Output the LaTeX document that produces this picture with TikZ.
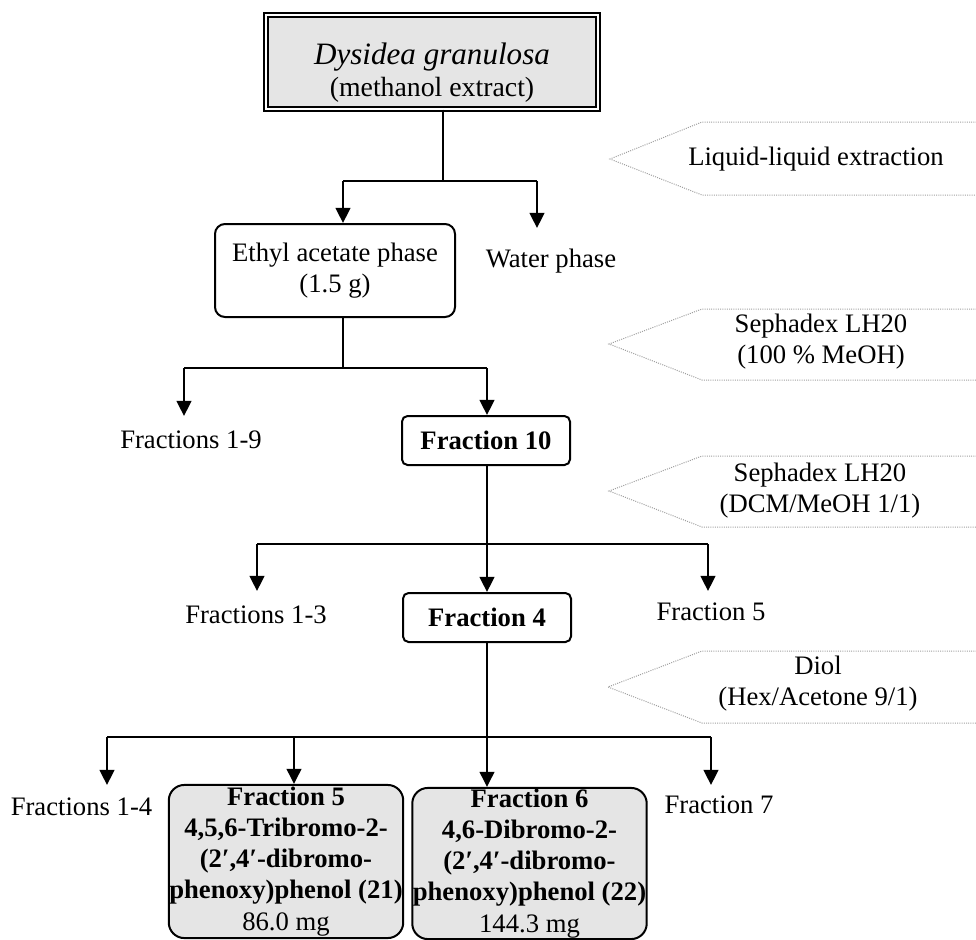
\documentclass[tikz,border=0pt]{standalone}
\usepackage{fontspec}
\setmainfont{Liberation Serif}
\usetikzlibrary{arrows.meta}
\begin{document}
\begin{tikzpicture}[x=0.45pt,y=-0.45pt,
  font=\fontsize{12}{14}\selectfont,
  conn/.style={line width=0.9pt},
  arr/.style={conn,-{Triangle[length=6.8pt,width=6.6pt]}},
  lbl/.style={inner sep=0pt},
  srcbox/.style={draw, line width=0.6pt, double, double distance=1.2pt,
    fill=gray!20, inner sep=0pt, minimum width=149.4pt, minimum height=42.3pt},
  phasebox/.style={draw, line width=0.9pt, rounded corners=4.5pt, align=center,
    inner sep=0pt, minimum width=108pt, minimum height=41.85pt},
  fracbox/.style={draw, line width=0.9pt, rounded corners=2.5pt, font=\fontsize{12}{14}\selectfont\bfseries,
    inner sep=0pt, minimum width=75.6pt, minimum height=22.05pt},
  prodbox/.style={draw, line width=0.9pt, rounded corners=7pt, fill=gray!20, align=center,
    font=\fontsize{12}{14}\selectfont\bfseries, inner sep=0pt, minimum width=105.5pt},
  guide/.style={draw=gray!75, line width=0.45pt, dash pattern=on 0.45pt off 0.55pt},
  steplbl/.style={inner sep=0pt, align=center}
]
\useasboundingbox (0,0) rectangle (976,940);

% ---- starting material ----
\node[srcbox] (src) at (432,62) {};
\node[lbl, anchor=base, font=\fontsize{14}{16}\selectfont\itshape] (srcname) at (432,64) {Dysidea granulosa};
\node[lbl, anchor=base, font=\fontsize{12.5}{15}\selectfont] (srcnote) at (432,96) {(methanol extract)};

% ---- separation steps (dotted tags on the right) ----
\draw[guide] (990,122) -- (702,122) -- (610,159) -- (702,195) -- (990,195);
\node[lbl, anchor=base] (lle) at (816,165) {Liquid-liquid extraction};

\draw[guide] (990,309) -- (702,309) -- (609,344) -- (702,380) -- (990,380);
\node[steplbl] (sep1) at (821,342) {Sephadex LH20\\(100 \% MeOH)};

\draw[guide] (990,456) -- (702,456) -- (609,491) -- (702,527) -- (990,527);
\node[steplbl] (sep2) at (820,491) {Sephadex LH20\\(DCM/MeOH 1/1)};

\draw[guide] (990,651) -- (702,651) -- (608,687) -- (702,723) -- (990,723);
\node[steplbl] (diol) at (818,684) {Diol\\(Hex/Acetone 9/1)};

% ---- fractions ----
\node[phasebox] (eth) at (335,270.5) {Ethyl acetate phase\\(1.5 g)};
\node[lbl, anchor=base] (water) at (551,267) {Water phase};

\node[lbl, anchor=base] (f19) at (191,448) {Fractions 1-9};
\node[fracbox] (f10) at (486,440.5) {Fraction 10};

\node[lbl, anchor=base] (f13) at (256,623) {Fractions 1-3};
\node[fracbox] (f4) at (487,617.5) {Fraction 4};
\node[lbl, anchor=base] (f5a) at (711,620) {Fraction 5};

\node[lbl, anchor=base] (f14) at (81.5,815) {Fractions 1-4};
\node[prodbox, minimum height=68.9pt] (f5) at (286,861.5)
  {Fraction 5\\4,5,6-Tribromo-2-\\(2′,4′-dibromo-\\phenoxy)phenol (21)\\{\mdseries 86.0 mg}};
\node[prodbox, minimum height=68pt] (f6) at (529.5,863.5)
  {Fraction 6\\4,6-Dibromo-2-\\(2′,4′-dibromo-\\phenoxy)phenol (22)\\{\mdseries 144.3 mg}};
\node[lbl, anchor=base] (f7) at (719,813) {Fraction 7};

% ---- branch points and free arrow ends ----
\coordinate (b1) at (443,181);
\coordinate (b1l) at (343,181);
\coordinate (b1r) at (537,181);
\coordinate (t1r) at (537,228);

\coordinate (b2) at (343,368);
\coordinate (b2l) at (184,368);
\coordinate (b2r) at (487,368);
\coordinate (t2l) at (184,416);

\coordinate (b3) at (487,544);
\coordinate (b3l) at (257,544);
\coordinate (b3r) at (708,544);
\coordinate (t3l) at (257,591);
\coordinate (t3r) at (708,591);

\coordinate (b4) at (487,737);
\coordinate (b4a) at (107,737);
\coordinate (b4b) at (294,737);
\coordinate (b4d) at (711,737);
\coordinate (t4a) at (107,785);
\coordinate (t4d) at (711,785);

% ---- connectors ----
\draw[conn] (src.south -| b1) -- (b1);
\draw[conn] (b1l) -- (b1r);
\draw[arr] (b1l) -- (b1l |- eth.north);
\draw[arr] (b1r) -- (t1r);

\draw[conn] (eth.south -| b2) -- (b2);
\draw[conn] (b2l) -- (b2r);
\draw[arr] (b2l) -- (t2l);
\draw[arr] (b2r) -- (b2r |- f10.north);

\draw[conn] (f10.south -| b3) -- (b3);
\draw[conn] (b3l) -- (b3r);
\draw[arr] (b3l) -- (t3l);
\draw[arr] (b3) -- (b3 |- f4.north);
\draw[arr] (b3r) -- (t3r);

\draw[conn] (f4.south -| b4) -- (b4);
\draw[conn] (b4a) -- (b4d);
\draw[arr] (b4a) -- (t4a);
\draw[arr] (b4b) -- (b4b |- f5.north);
\draw[arr] (b4) -- (b4 |- f6.north);
\draw[arr] (b4d) -- (t4d);
\end{tikzpicture}
\end{document}
